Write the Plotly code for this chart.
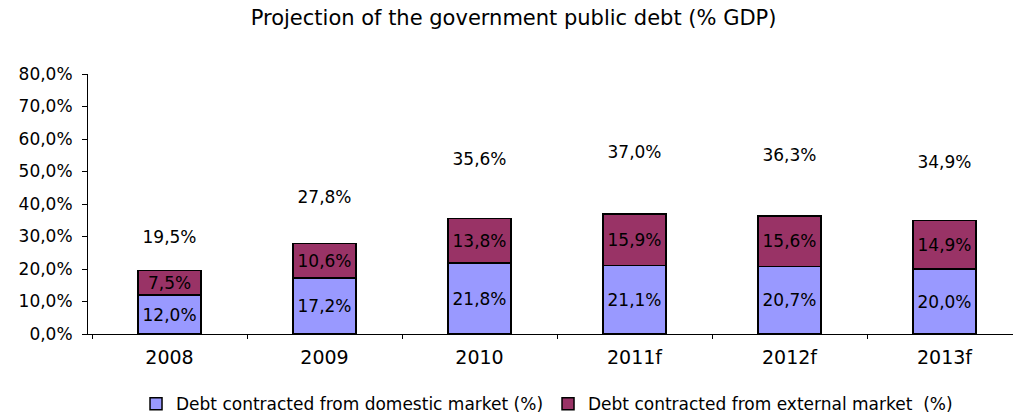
import plotly.graph_objects as go

years = ["2008", "2009", "2010", "2011f", "2012f", "2013f"]
domestic = [12.0, 17.2, 21.8, 21.1, 20.7, 20.0]
external = [7.5, 10.6, 13.8, 15.9, 15.6, 14.9]
totals = [19.5, 27.8, 35.6, 37.0, 36.3, 34.9]

FONT = "DejaVu Sans, Verdana, sans-serif"


def pct(v):
    return f"{v:.1f}".replace(".", ",") + "%"


fig = go.Figure()
fig.add_trace(go.Bar(
    x=years, y=domestic, name="Debt contracted from domestic market (%)",
    marker=dict(color="#9999FF", line=dict(color="black", width=1.5)),
    text=[pct(v) for v in domestic], textposition="inside",
    insidetextanchor="middle", textangle=0, constraintext="none",
    textfont=dict(color="black", size=17, family=FONT), width=0.405,
))
fig.add_trace(go.Bar(
    x=years, y=external, name="Debt contracted from external market  (%)",
    marker=dict(color="#993366", line=dict(color="black", width=1.5)),
    text=[pct(v) for v in external], textposition="inside",
    insidetextanchor="middle", textangle=0, constraintext="none",
    textfont=dict(color="black", size=17, family=FONT), width=0.405,
))
# Total debt labels floating above each stack
fig.add_trace(go.Scatter(
    x=years, y=[t * 1.5 for t in totals], mode="text",
    text=[pct(t) for t in totals], textposition="middle center",
    textfont=dict(color="black", size=17, family=FONT),
    showlegend=False, hoverinfo="skip",
))

fig.update_layout(
    barmode="stack",
    width=1013, height=415,
    margin=dict(l=88, r=0, t=74, b=81),
    paper_bgcolor="white", plot_bgcolor="white",
    separators=",.",
    font=dict(family=FONT, size=17, color="black"),
    title=dict(text="Projection of the government public debt (% GDP)",
               x=0.507, xref="container", y=0.957, yref="container",
               xanchor="center", yanchor="middle",
               font=dict(size=21, family=FONT, color="black")),
    legend=dict(orientation="h", x=0.54, xref="container", xanchor="center",
                y=0.026, yref="container", yanchor="middle",
                font=dict(size=17, family=FONT, color="black"),
                itemwidth=30, traceorder="normal"),
    xaxis=dict(type="category", range=[-0.526, 5.442],
               showline=True, linecolor="black", linewidth=1,
               ticks="outside", tickson="boundaries", ticklen=4,
               tickcolor="black", showgrid=False, zeroline=False,
               ticklabelstandoff=6,
               tickfont=dict(size=19, family=FONT, color="black")),
    yaxis=dict(range=[0, 80], dtick=10, tickformat=".1f", ticksuffix="%",
               showline=True, linecolor="black", linewidth=1,
               ticks="outside", ticklen=5, tickcolor="black",
               showgrid=False, zeroline=False, ticklabelstandoff=6,
               tickfont=dict(size=17, family=FONT, color="black")),
)

fig.write_html("out.html")
